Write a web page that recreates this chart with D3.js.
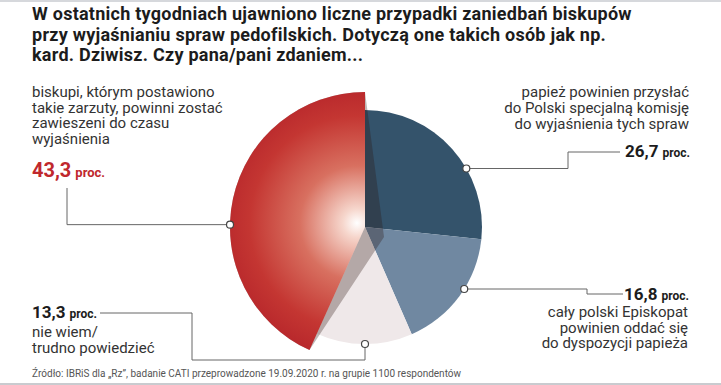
<!DOCTYPE html>
<html>
<head>
<meta charset="utf-8">
<script src="https://cdn.jsdelivr.net/npm/d3@7"></script>
<style>
    body { margin: 0; background: #fff; }
    svg { display: block; font-family: Roboto, 'Liberation Sans', sans-serif; }
</style>
</head>
<body>
<svg id="chart"></svg>
<script>
// Data
const titleLines = [
    'W ostatnich tygodniach ujawniono liczne przypadki zaniedbań biskupów',
    'przy wyjaśnianiu spraw pedofilskich. Dotyczą one takich osób jak np.',
    'kard. Dziwisz. Czy pana/pani zdaniem...'
];
const categories = [
    ['papież powinien przysłać', 'do Polski specjalną komisję', 'do wyjaśnienia tych spraw'],
    ['cały polski Episkopat', 'powinien oddać się', 'do dyspozycji papieża'],
    ['nie wiem/', 'trudno powiedzieć'],
    ['biskupi, którym postawiono', 'takie zarzuty, powinni zostać', 'zawieszeni do czasu', 'wyjaśnienia']
];
const values = [26.7, 16.8, 13.3, 43.3];
const valueLabels = ['26,7', '16,8', '13,3', '43,3'];
const unitLabel = 'proc.';
const sourceText = 'Źródło: IBRiS dla „Rz”, badanie CATI przeprowadzone 19.09.2020 r. na grupie 1100 respondentów';

class PieChart {

    constructor(_config) {
        this.config = {
            parentElement: _config.parentElement,
            containerWidth: 721,
            containerHeight: 385,
            center: {x: 365, y: 227},
            radius: 117,
            highlightRadius: 135,
            highlightIndex: 3,
            colors: ['#34536b', '#7088a1', '#efe8e9', '#c0282d'],
            // marker angle (deg, clockwise from top) and leader/label layout per slice
            annotations: [
                {angle: 60, path: [[568, null], [568, 152], [620, 152]],
                    value: {x: 690, y: 157, anchor: 'end'}, text: {x: 689, y: 97, anchor: 'end', dy: 16}},
                {angle: 122, path: [[587, null], [587, 294], [623, 294]],
                    value: {x: 689, y: 300, anchor: 'end'}, text: {x: 688, y: 317, anchor: 'end', dy: 15.5}},
                {angle: 180, path: [[null, 360], [192, 360], [192, 313], [100, 313]],
                    value: {x: 32, y: 318, anchor: 'start'}, text: {x: 32, y: 337, anchor: 'start', dy: 16}},
                {angle: 271, path: [[67, null], [67, 188]],
                    value: {x: 32, y: 177, anchor: 'start', color: '#c0282d', big: true}, text: {x: 32, y: 97, anchor: 'start', dy: 15.5}}
            ]
        };
        this.initVis();
    }

    initVis() {
        let vis = this;
        const c = vis.config;

        vis.svg = d3.select(c.parentElement)
            .attr('width', c.containerWidth)
            .attr('height', c.containerHeight);

        // thin frame lines like in the scan
        vis.svg.append('rect')
            .attr('x', 0).attr('y', 0)
            .attr('width', c.containerWidth).attr('height', 2)
            .attr('fill', '#d6d8dc');
        vis.svg.append('rect')
            .attr('x', 0).attr('y', c.containerHeight - 2)
            .attr('width', c.containerWidth).attr('height', 2)
            .attr('fill', '#c9cbcf');

        // gradient lives in the chart group's coordinates (origin = pie centre)
        const defs = vis.svg.append('defs');
        const grad = defs.append('radialGradient')
            .attr('id', 'redGrad')
            .attr('gradientUnits', 'userSpaceOnUse')
            .attr('cx', -8).attr('cy', -4)
            .attr('r', c.highlightRadius + 8);
        [[0, '#ffffff'], [0.1, '#f6d6cc'], [0.4, '#d87060'], [0.75, '#c43632'], [1, '#b5242a']]
            .forEach(([o, col]) => grad.append('stop').attr('offset', o).attr('stop-color', col));

        vis.chart = vis.svg.append('g')
            .attr('transform', `translate(${c.center.x},${c.center.y})`);

        vis.pie = d3.pie().sort(null).value(d => d);
        vis.arc = d3.arc().innerRadius(0);

        vis.renderVis();
    }

    renderVis() {
        let vis = this;
        const c = vis.config;
        const arcs = vis.pie(values);
        const radiusOf = i => i === c.highlightIndex ? c.highlightRadius : c.radius;

        // regular slices
        vis.chart.selectAll('.slice')
            .data(arcs.filter((d, i) => i !== c.highlightIndex))
            .join('path')
            .attr('class', 'slice')
            .attr('d', d => vis.arc.outerRadius(c.radius)(d))
            .attr('fill', d => c.colors[d.index]);

        // shadow of the highlighted slice
        const h = arcs[c.highlightIndex];
        const R = c.highlightRadius;
        const p0 = [R * Math.sin(h.startAngle), -R * Math.cos(h.startAngle)];
        const p1 = [R * Math.sin(h.endAngle), -R * Math.cos(h.endAngle)];
        const large = (h.endAngle - h.startAngle) > Math.PI ? 1 : 0;
        vis.chart.append('path')
            .attr('d', `M19,10L${p0[0]},${p0[1]}A${R},${R} 0 ${large} 1 ${p1[0]},${p1[1]}Z`)
            .attr('fill', '#2a1410')
            .attr('opacity', 0.3);

        vis.chart.append('path')
            .attr('class', 'slice-highlight')
            .attr('d', vis.arc.outerRadius(R)(h))
            .attr('fill', 'url(#redGrad)');

        // title
        vis.svg.selectAll('.title')
            .data(titleLines)
            .join('text')
            .attr('class', 'title')
            .attr('x', 32)
            .attr('y', (d, i) => 20 + i * 20.5)
            .style('font-size', '18px')
            .style('letter-spacing', '0.25px')
            .style('font-weight', 700)
            .attr('fill', '#1c1c1c')
            .text(d => d);

        // leaders
        c.annotations.forEach((a, i) => {
            const ang = a.angle * Math.PI / 180;
            const r = radiusOf(i);
            const mx = c.center.x + r * Math.sin(ang);
            const my = c.center.y - r * Math.cos(ang);
            const pts = [[mx, my]];
            a.path.forEach(([x, y]) => {
                const prev = pts[pts.length - 1];
                pts.push([x === null ? prev[0] : x, y === null ? prev[1] : y]);
            });
            vis.svg.append('path')
                .attr('d', d3.line()(pts))
                .attr('fill', 'none')
                .attr('stroke', '#666')
                .attr('stroke-width', 1);
            vis.svg.append('circle')
                .attr('cx', mx).attr('cy', my).attr('r', 3.5)
                .attr('fill', '#fff')
                .attr('stroke', '#444')
                .attr('stroke-width', 1.2);

            // value
            const v = vis.svg.append('text')
                .attr('x', a.value.x)
                .attr('y', a.value.y)
                .attr('text-anchor', a.value.anchor)
                .attr('fill', a.value.color || '#1c1c1c')
                .style('font-weight', 700);
            v.append('tspan')
                .style('font-size', a.value.big ? '20px' : '17px')
                .text(valueLabels[i]);
            v.append('tspan')
                .style('font-size', a.value.big ? '13px' : '12px')
                .attr('dx', 4)
                .text(unitLabel);

            // description
            vis.svg.append('g').selectAll('text')
                .data(categories[i])
                .join('text')
                .attr('x', a.text.x)
                .attr('y', (d, j) => a.text.y + j * a.text.dy)
                .attr('text-anchor', a.text.anchor)
                .style('font-size', '15px')
                .attr('fill', '#333')
                .text(d => d);
        });

        vis.svg.append('text')
            .attr('x', 32)
            .attr('y', 377)
            .style('font-size', '10px')
            .attr('fill', '#555')
            .text(sourceText);
    }
}

new PieChart({parentElement: '#chart'});
</script>
</body>
</html>
